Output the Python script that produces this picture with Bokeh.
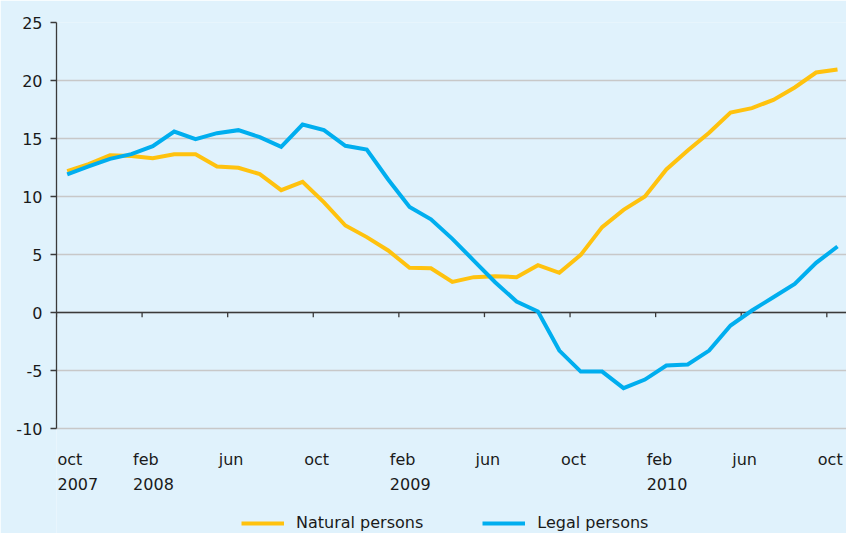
from bokeh.plotting import figure
from bokeh.models import Range1d, FixedTicker, Span, Legend, LegendItem, ColumnDataSource
from bokeh.core.properties import value
from bokeh.embed import file_html
from bokeh.resources import INLINE

# --- data (monthly, oct 2007 .. oct 2010), percent y/y ---
natural = [12.18, 12.8, 13.56, 13.5, 13.3, 13.65, 13.65, 12.59, 12.47, 11.93,
           10.55, 11.27, 9.5, 7.5, 6.5, 5.35, 3.85, 3.82, 2.64, 3.05,
           3.13, 3.05, 4.08, 3.42, 4.97, 7.36, 8.85, 10.0, 12.33, 13.97,
           15.49, 17.24, 17.62, 18.33, 19.4, 20.69, 20.95]
legal = [11.9, 12.59, 13.25, 13.65, 14.34, 15.6, 14.94, 15.46, 15.72, 15.12,
         14.28, 16.2, 15.72, 14.37, 14.05, 11.47, 9.1, 8.03, 6.35, 4.48,
         2.61, 0.95, 0.09, -3.28, -5.09, -5.09, -6.52, -5.78, -4.57, -4.48,
         -3.28, -1.12, 0.17, 1.32, 2.47, 4.28, 5.69]
month_index = list(range(len(natural)))

tick_months = [0, 4, 8, 12, 16, 20, 24, 28, 32, 36]   # index of labelled months
month_labels = ["oct", "feb", "jun", "oct", "feb", "jun", "oct", "feb", "jun", "oct"]
year_labels = ["2007", "2008", "", "", "2009", "", "", "2010", "", ""]
y_ticks = [-10, -5, 0, 5, 10, 15, 20, 25]

BG = "#e0f2fc"
ORANGE = "#ffc20e"
BLUE = "#00aeef"
DARK = "#3a3a3a"
TXT = "#1a1a1a"
FONT = "DejaVu Sans"
FS = "16px"

y_min, y_max = y_ticks[0], y_ticks[-1]
# the frame reaches down to the bottom of the page so that the category
# labels and the legend can sit underneath the value axis
p = figure(width=846, height=533, output_backend="svg", toolbar_location=None,
           x_range=Range1d(-0.5, 36.42), y_range=Range1d(-19.05, y_max),
           x_axis_location=None, min_border_left=56, min_border_right=0,
           min_border_top=22, min_border_bottom=0)
p.background_fill_color = BG
p.border_fill_color = BG
p.outline_line_color = None

p.xgrid.visible = False
p.ygrid.ticker = FixedTicker(ticks=y_ticks)
p.ygrid.grid_line_color = "#c8c8c8"
p.ygrid.grid_line_width = 1.3

ax = p.yaxis[0]
ax.ticker = FixedTicker(ticks=y_ticks)
ax.bounds = (y_min, y_max)
ax.major_label_overrides = {t: str(t) for t in y_ticks}
ax.axis_line_color = DARK
ax.axis_line_width = 1.3
ax.major_tick_line_color = DARK
ax.major_tick_line_width = 1.3
ax.major_tick_out = 6
ax.major_tick_in = 0
ax.minor_tick_line_color = None
ax.major_label_standoff = 8
ax.major_label_text_font = FONT
ax.major_label_text_font_size = FS
ax.major_label_text_color = TXT

# zero line acting as category axis, with ticks between categories
p.add_layout(Span(location=0, dimension="width", line_color=DARK, line_width=1.3,
                  level="underlay"))
tick_x = [m - 0.5 for m in tick_months]
p.segment(x0=tick_x, y0=[0] * len(tick_x), x1=tick_x, y1=[-0.4] * len(tick_x),
          line_color=DARK, line_width=1.3)

r_nat = p.line(month_index, natural, line_color=ORANGE, line_width=4, line_join="miter")
r_leg = p.line(month_index, legal, line_color=BLUE, line_width=4, line_join="miter")

# category labels (month row and year row); the first one cannot hang left
# of the plotting area, so it starts at the axis
label_shift = [1] + [-9] * (len(tick_x) - 1)
lab_src = ColumnDataSource(dict(x=tick_x, y=[y_min] * len(tick_x), dx=label_shift,
                                month=month_labels, year=year_labels))
common = dict(source=lab_src, text_align="left", text_baseline="alphabetic",
              text_font=value(FONT), text_font_size=FS, text_color=TXT, x_offset="dx")
p.text(x="x", y="y", text="month", y_offset=31, **common)
p.text(x="x", y="y", text="year", y_offset=55, **common)

legend = Legend(items=[LegendItem(label="Natural persons", renderers=[r_nat]),
                       LegendItem(label="Legal persons", renderers=[r_leg])],
                orientation="horizontal", location=(185, 1),
                glyph_width=43, glyph_height=16, label_height=16,
                label_standoff=12, spacing=59, padding=0, margin=0,
                border_line_color=None, background_fill_alpha=0,
                label_text_font=FONT, label_text_font_size=FS,
                label_text_color=TXT)
p.add_layout(legend, "center")

open("out.html", "w").write(file_html(p, INLINE))
